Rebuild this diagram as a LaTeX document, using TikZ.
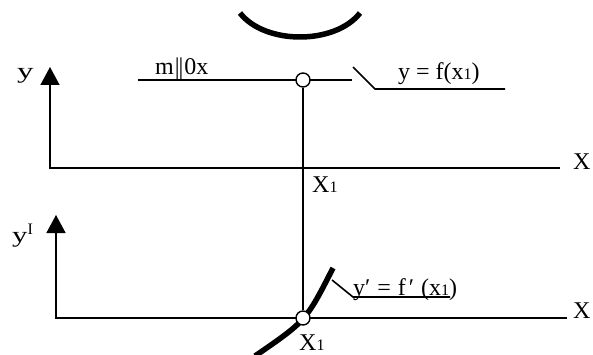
\documentclass[tikz,border=0pt]{standalone}
\usepackage{fontspec}
\setmainfont{Liberation Serif}
\usetikzlibrary{arrows.meta}
\newcommand{\subone}{{\fontsize{16}{16}\selectfont 1}}
\begin{document}
\begin{tikzpicture}[x=1pt,y=-1pt,
  thin line/.style={line width=1.6pt},
  axis/.style={line width=1.6pt,-{Triangle[width=19pt,length=18pt]}},
  thick curve/.style={line width=5.5pt},
  dot/.style={circle,draw,fill=white,line width=1.4pt,minimum size=14pt,inner sep=0pt},
  lbl/.style={anchor=base west,inner sep=0pt,font=\fontsize{24}{24}\selectfont},
  axlbl/.style={anchor=base west,inner sep=0pt,font=\fontsize{22}{22}\selectfont}]
\useasboundingbox (0,0) rectangle (593,355);
% coordinates
\coordinate (o1) at (50,168);
\coordinate (y1) at (50,67);
\coordinate (x1e) at (560,168);
\coordinate (o2) at (56,318);
\coordinate (y2) at (56,215);
\coordinate (x2e) at (567,318);
\coordinate (mL) at (138,80);
\coordinate (mR) at (352,80);
\coordinate (la) at (353,67);
\coordinate (lb) at (375,89);
\coordinate (lc) at (505,89);
\coordinate (arcL) at (240,13);
\coordinate (arcR) at (360,13);
\coordinate (cL) at (255,356);
\coordinate (cR) at (333,268);
\coordinate (da) at (332,280);
\coordinate (db) at (353,297);
\coordinate (dc) at (450,297);
% top arc
\draw[thick curve] (arcL) .. controls (265,45) and (335,45) .. (arcR);
% axes
\draw[axis] (x1e) -- (o1) -- (y1);
\draw[axis] (x2e) -- (o2) -- (y2);
% line m
\draw[thin line] (mL) -- (mR);
% leader upper
\draw[thin line] (la) -- (lb) -- (lc);
% thick curve lower
\draw[thick curve] (cL) .. controls (306,321) .. (cR);
% leader lower
\draw[thin line] (da) -- (db) -- (dc);
% points
\node[dot] (p1) at (303,80) {};
\node[dot] (p2) at (303,318) {};
\draw[thin line] (p1) -- (p2);
% labels
\node[axlbl] (ly1) at (17,79) {\scalebox{1.5}[1]{y}};
\node[axlbl] (ly2) at (12,242) {\scalebox{1.4}[1]{y}\raisebox{0.33em}{\fontsize{16}{16}\selectfont I}};
\node[lbl] (lm) at (155,75) {m\kern1pt|\kern-1pt|\kern1pt0x};
\node[lbl] (lf) at (398,80) {y = f(x\subone)};
\node[lbl] (lX1) at (573,170) {X};
\node[lbl] (lx1) at (312,193) {X\subone};
\node[lbl] (lX2) at (573,318) {X};
\node[lbl] (ld) at (353,295) {y′\hspace{1pt} = \hspace{1pt}f\hspace{3pt}′\hspace{7pt}(x\subone)};
\node[lbl] (lx2) at (299,350) {X\subone};
\end{tikzpicture}
\end{document}
